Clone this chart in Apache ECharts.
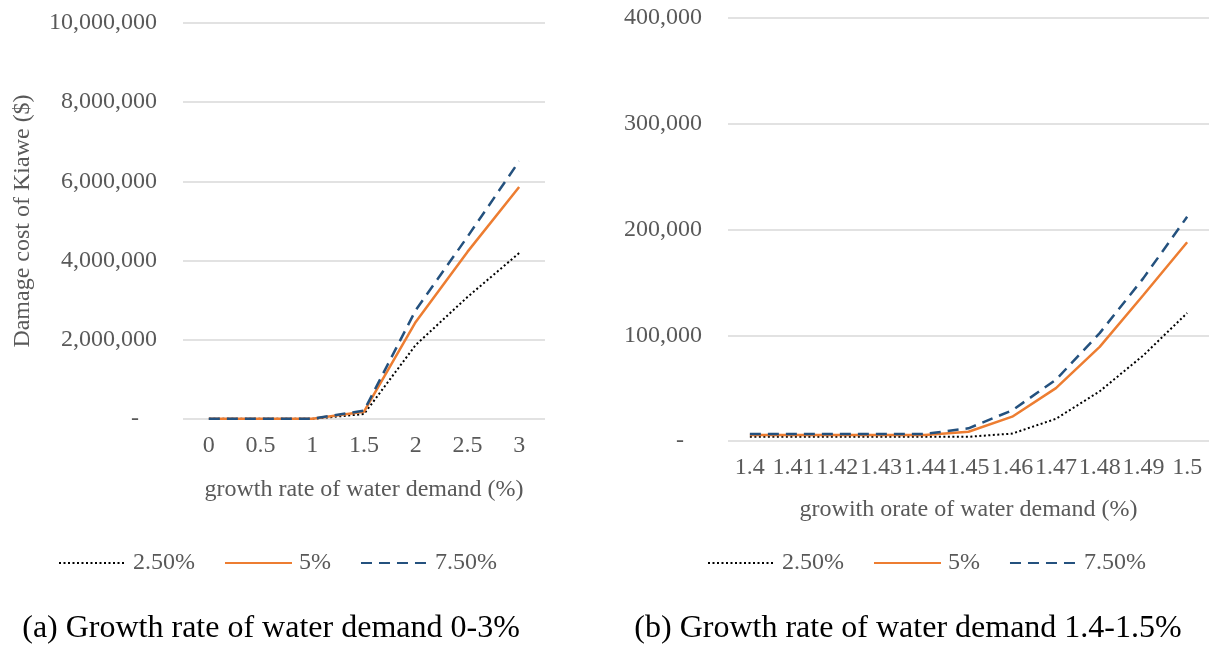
<!DOCTYPE html>
<html>
<head>
<meta charset="utf-8">
<script src="https://cdn.jsdelivr.net/npm/echarts@6/dist/echarts.min.js"></script>
<style>
  html, body { margin: 0; padding: 0; background: #fff; }
  #chart { width: 1210px; height: 645px; }
</style>
</head>
<body>
<div id="chart"></div>
<script>
// ---- data ----
const seriesNames = ['2.50%', '5%', '7.50%'];

const catsA = ['0', '0.5', '1', '1.5', '2', '2.5', '3'];
const a_low = [4000, 4000, 4000, 125000, 1870000, 3080000, 4190000];
const a_mid = [5000, 5000, 5000, 185000, 2450000, 4220000, 5860000];
const a_high = [6000, 6000, 6000, 210000, 2750000, 4600000, 6510000];

const catsB = ['1.4', '1.41', '1.42', '1.43', '1.44', '1.45', '1.46', '1.47', '1.48', '1.49', '1.5'];
const b_low = [4000, 4000, 4000, 4000, 4000, 4000, 7000, 21000, 47000, 81000, 121000];
const b_mid = [5700, 5700, 5700, 5700, 5700, 8800, 23000, 50000, 89000, 138000, 188000];
const b_high = [6600, 6600, 6600, 6600, 6600, 12000, 29000, 58000, 102000, 154000, 212000];

const captionA = '(a) Growth rate of water demand 0-3%';
const captionB = '(b) Growth rate of water demand 1.4-1.5%';

// ---- styles ----
const FONT = 'Liberation Serif';
const GRAY = '#595959';
const GRID = '#d9d9d9';
const styles = [
  { color: '#000000', width: 2, type: [2, 2.5] },
  { color: '#ED7D31', width: 2.5, type: 'solid' },
  { color: '#24517E', width: 2.5, type: [11, 7] }
];

function fmt(v) {
  if (v === 0) return '-   ';
  return v.toLocaleString('en-US');
}

function mkSeries(data, idx, gi) {
  return {
    name: seriesNames[idx],
    type: 'line',
    xAxisIndex: gi,
    yAxisIndex: gi,
    data: data,
    symbol: 'none',
    smooth: false,
    lineStyle: { color: styles[idx].color, width: styles[idx].width, type: styles[idx].type },
    itemStyle: { color: styles[idx].color },
    animation: false
  };
}

const xAxisCommon = {
  type: 'category',
  boundaryGap: true,
  axisLine: { show: false },
  axisTick: { show: false },
  nameLocation: 'middle',
  nameTextStyle: { fontFamily: FONT, fontSize: 24, color: GRAY },
  axisLabel: { fontFamily: FONT, fontSize: 24, color: GRAY, interval: 0, hideOverlap: false, margin: 15 }
};

const yAxisCommon = {
  type: 'value',
  min: 0,
  axisLine: { show: false },
  axisTick: { show: false },
  splitLine: { lineStyle: { color: GRID, width: 1.5 } },
  axisLabel: { fontFamily: FONT, fontSize: 24, color: GRAY, margin: 26, formatter: fmt }
};

const legendCommon = {
  data: seriesNames,
  orient: 'horizontal',
  top: 551,
  padding: 0,
  itemWidth: 67,
  itemHeight: 14,
  itemGap: 29,
  itemStyle: { opacity: 0 },
  textStyle: { fontFamily: FONT, fontSize: 24, color: GRAY, padding: [0, 0, 0, 2] }
};

const chart = echarts.init(document.getElementById('chart'), null, { renderer: 'canvas' });
chart.setOption({
  animation: false,
  backgroundColor: '#ffffff',
  grid: [
    { left: 183, right: 665, top: 23, bottom: 226 },
    { left: 728, right: 1, top: 18, bottom: 204 }
  ],
  xAxis: [
    Object.assign({}, xAxisCommon, { gridIndex: 0, data: catsA, name: 'growth rate of water demand (%)', nameGap: 59 }),
    Object.assign({}, xAxisCommon, { gridIndex: 1, data: catsB, name: 'growith orate of water demand (%)', nameGap: 57 })
  ],
  yAxis: [
    Object.assign({}, yAxisCommon, {
      gridIndex: 0, max: 10000000, interval: 2000000,
      name: 'Damage cost of Kiawe ($)', nameLocation: 'middle', nameGap: 148, nameRotate: 90,
      nameTextStyle: { fontFamily: FONT, fontSize: 24, color: GRAY }
    }),
    Object.assign({}, yAxisCommon, { gridIndex: 1, max: 400000, interval: 100000 })
  ],
  legend: [
    Object.assign({}, legendCommon, { left: 58 }),
    Object.assign({}, legendCommon, { left: 707 })
  ],
  graphic: [
    { type: 'text', x: 271, y: 629, style: { text: captionA, font: '32px "Liberation Serif"', fill: '#000', textAlign: 'center', textVerticalAlign: 'middle' } },
    { type: 'text', x: 908, y: 629, style: { text: captionB, font: '32px "Liberation Serif"', fill: '#000', textAlign: 'center', textVerticalAlign: 'middle' } }
  ],
  series: [
    mkSeries(a_low, 0, 0), mkSeries(a_mid, 1, 0), mkSeries(a_high, 2, 0),
    mkSeries(b_low, 0, 1), mkSeries(b_mid, 1, 1), mkSeries(b_high, 2, 1)
  ]
});
</script>
</body>
</html>
